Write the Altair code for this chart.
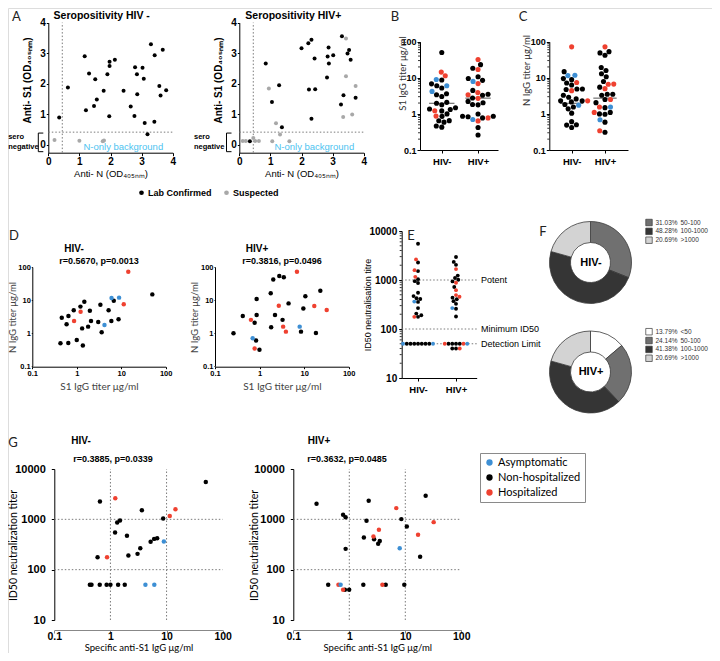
import numpy as np
import pandas as pd
import altair as alt

W, H, OFF = 704, 645, 8


def P(v):
    return v - OFF


ARIAL = "Liberation Sans"
MYRIAD = "Lato"
RED, BLUE, BLACK, GRAY, CYAN = "#ef4130", "#3d8fd4", "#000000", "#a8a8a8", "#4ec3f0"

# ---------------- data ----------------
groups = ["HIV-", "HIV+"]
status_names = ["Asymptomatic", "Non-hospitalized", "Hospitalized"]
status_colors = [BLUE, BLACK, RED]
status_code = {"A": "Asymptomatic", "N": "Non-hospitalized", "H": "Hospitalized"}
a_status = ["Lab Confirmed", "Suspected"]
a_colors = [BLACK, GRAY]

# Panel A : anti-N OD (x) vs anti-S1 OD (y)
a_neg_lab_n = [0.35, 0.63, 1.17, 1.21, 1.31, 1.47, 1.51, 1.56, 1.78, 1.90, 1.96, 1.97, 1.97, 2.14, 2.42, 2.65,
               2.77, 2.79, 2.85, 2.86, 3.03, 3.07, 3.10, 3.19, 3.30, 3.41, 3.42, 3.57, 3.61, 3.68, 3.79]
a_neg_lab_s1 = [0.89, 1.87, 2.90, 1.13, 2.33, 1.27, 2.14, 1.48, 1.77, 2.31, 0.93, 2.72, 2.58, 2.78, 1.77, 1.25,
                0.94, 2.54, 2.31, 1.65, 2.52, 2.16, 0.71, 0.34, 3.29, 0.75, 2.93, 1.92, 1.61, 3.11, 1.78]
a_neg_sus_n = [0.20, 1.00, 1.75, 1.79]
a_neg_sus_s1 = [0.15, 0.13, 0.11, 0.14]
a_pos_lab_n = [0.34, 0.85, 1.05, 1.28, 1.37, 2.00, 2.22, 2.24, 2.32, 2.32, 2.42, 2.44, 2.82, 2.84, 2.87, 2.88,
               3.02, 3.27, 3.30, 3.35, 3.48, 3.53, 3.58, 3.74]
a_pos_lab_s1 = [0.11, 2.66, 1.40, 1.95, 0.57, 3.16, 3.32, 1.81, 3.44, 0.85, 2.82, 1.82, 2.20, 2.89, 3.18, 2.66,
                2.93, 1.32, 3.55, 1.62, 2.99, 3.10, 2.78, 1.54]
a_pos_sus_n = [0.11, 0.21, 0.45, 0.51, 0.63, 0.95, 1.06, 1.18, 1.31, 1.61, 3.34, 3.43, 3.43, 3.63, 3.74]
a_pos_sus_s1 = [0.12, 0.12, 0.22, 0.12, 0.12, 1.84, 0.11, 0.70, 0.33, 0.11, 0.91, 3.48, 2.24, 0.99, 1.92]
a_cut_n = 0.45
a_cut_s1 = 0.41

# Subjects (S1 IgG, N IgG, ID50) used in B, C, D, E, G
neg_s1 = [0.43, 0.46, 0.59, 0.645, 0.65, 0.855, 1.0, 1.21, 1.32, 1.37, 1.48, 1.8, 1.97, 2.09, 6.0, 3.04, 3.4,
          3.63, 5.2, 6.8, 8.7, 50, 0.87, 1.22, 11.4, 14.4, 4.2, 6.05, 8.95]
neg_n = [0.49, 2.9, 1.83, 0.5, 3.3, 4.9, 0.61, 6.3, 1.38, 0.42, 8.9, 1.56, 4.75, 2.3, 2.3, 2.15, 7.2, 1.05, 4.9,
         9.5, 2.6, 14.8, 2.3, 4.4, 7.4, 72, 1.75, 11.5, 11.8]
neg_id50 = [50, 50, 177, 50, 2270, 50, 50, 548, 868, 50, 948, 50, 470, 191, 409, 206, 267, 1520, 357, 423, 1040,
            5500, 177, 2630, 1160, 1590, 50, 50, 363]
neg_status = "NNNNNNNNNNNNNNNNNNNNNN" + "HHHH" + "AAA"

pos_s1 = [0.26, 0.42, 0.775, 0.835, 0.86, 0.86, 0.995, 1.78, 1.82, 2.03, 2.22, 2.77, 3.28, 3.5, 4.47, 8.5, 9.6,
          10.65, 18.4, 23.1, 0.64, 0.775, 2.7, 3.38, 3.9, 6.9, 16.9, 32.1, 0.70, 7.95]
pos_n = [0.98, 3.3, 2.05, 0.59, 3.5, 10.7, 0.31, 15.9, 1.49, 42, 3.5, 53, 2.5, 49, 7.9, 1.1, 5.5, 12.9, 1.0,
         19.2, 2.5, 0.34, 6.7, 1.56, 1.1, 72, 6.6, 5.0, 0.69, 1.56]
pos_id50 = [2040, 50, 1230, 40, 259, 1100, 40, 50, 436, 935, 2340, 404, 326, 370, 50, 1010, 50, 721, 180, 2940,
            50, 40, 456, 620, 50, 1670, 492, 880, 50, 267]
pos_status = "NNNNNNNNNNNNNNNNNNNN" + "HHHHHHHH" + "AA"

d_stats = {"HIV-": "r=0.5670, p=0.0013", "HIV+": "r=0.3816, p=0.0496"}
g_stats = {"HIV-": "r=0.3885, p=0.0339", "HIV+": "r=0.3632, p=0.0485"}

e_ref_values = [1000, 100, 50]
e_ref_labels = ["Potent", "Minimum ID50", "Detection Limit"]
g_grid_x = [1, 10]
g_grid_y = [100, 1000]

f_bins = ["<50", "50-100", "100-1000", ">1000"]
f_neg_pct = [0.0, 31.03, 48.28, 20.69]
f_pos_pct = [13.79, 24.14, 41.38, 20.69]
f_bin_colors = ["#ffffff", "#707070", "#353535", "#d3d3d3"]

# ---------------- tables ----------------
ONE = pd.DataFrame({"k": [0]})


def subjects(grp, s1, n, id50, st):
    d = pd.DataFrame({"grp": grp, "gi": groups.index(grp), "S1": s1, "N": n, "ID50": id50,
                      "status": [status_code[c] for c in st]})
    d["rank"] = (d["status"] != "Non-hospitalized").astype(int)
    return d


subj = pd.concat([subjects("HIV-", neg_s1, neg_n, neg_id50, neg_status),
                  subjects("HIV+", pos_s1, pos_n, pos_id50, pos_status)], ignore_index=True)


def swarm(vals, ppd, step):
    yy = np.log10(np.asarray(vals, float)) * ppd
    cands = sorted(np.arange(-30, 30.01, 0.25), key=lambda c: (abs(c), c))
    px, py = [], []
    out = np.zeros(len(yy))
    for i in np.argsort(yy, kind="stable"):
        for c in cands:
            if all((c - a) ** 2 + (yy[i] - b) ** 2 >= step * step - 1e-6 for a, b in zip(px, py)):
                break
        out[i] = c
        px.append(c)
        py.append(yy[i])
    return out


for col, key, ppd, step, ppu in [("bx", "S1", 36.1, 5.4, 36.3), ("cx", "N", 36.1, 5.4, 33.3),
                                 ("ex", "ID50", 49.0, 3.6, 38.0)]:
    subj[col] = 0.0
    for g in groups:
        m = subj["grp"] == g
        subj.loc[m, col] = subj.loc[m, "gi"] + swarm(subj.loc[m, key].values, ppd, step) / ppu

subj = subj.sort_values("rank", kind="stable").reset_index(drop=True)


def a_table(lab_n, lab_s1, sus_n, sus_s1):
    return pd.concat([pd.DataFrame({"N": sus_n, "S1": sus_s1, "st": a_status[1]}),
                      pd.DataFrame({"N": lab_n, "S1": lab_s1, "st": a_status[0]})], ignore_index=True)


a_neg = a_table(a_neg_lab_n, a_neg_lab_s1, a_neg_sus_n, a_neg_sus_s1)
a_pos = a_table(a_pos_lab_n, a_pos_lab_s1, a_pos_sus_n, a_pos_sus_s1)


def minor_ticks(lo_exp, hi_exp):
    return [m * 10.0 ** k for k in range(lo_exp, hi_exp) for m in range(2, 10)]


# ---------------- scales & axes ----------------
def lin(dom, r0, r1):
    return alt.Scale(type="linear", domain=dom, range=[P(r0), P(r1)], nice=False, zero=False)


def lg(dom, r0, r1):
    return alt.Scale(type="log", domain=dom, range=[P(r0), P(r1)], nice=False)


def ax(orient, pos, **kw):
    base = dict(grid=False, domainColor="black", tickColor="black", labelColor="black", labelFont=ARIAL,
                labelFontWeight="bold", titleFont=ARIAL, titleColor="black", titleFontWeight="normal",
                domainWidth=1, tickWidth=1, labelFlush=False, labelOverlap=False)
    base.update(kw)
    off = P(pos) - H if orient == "bottom" else -P(pos)
    return alt.Axis(orient=orient, offset=off, **base)


def left_title_x(center_x, axis_x, fs):
    # rotated left-axis title: text spans [titleX - fs, titleX] relative to the axis line
    return center_x + fs / 2 - axis_x


SA_LX, SA_LY = lin([0, 4], 48.3, 172.7), lin([-0.26, 4], 152.6, 22.6)
SA_RX, SA_RY = lin([0, 4], 239.3, 363.7), lin([-0.26, 4], 152.6, 22.6)
SB_X, SB_Y = lin([-0.6, 1.55], 420, 498), lg([0.1, 100], 150, 41.7)
SC_X, SC_Y = lin([-0.67, 1.69], 549.3, 628), lg([0.1, 100], 150, 41.7)
SD_LX, SD_RX = lg([0.1, 100], 32.3, 165.7), lg([0.1, 100], 215, 348.7)
SD_Y = lg([0.1, 100], 366, 267)
SE_X, SE_Y = lin([-0.43, 1.545], 401.7, 476.7), lg([10, 10000], 378, 231)
SG_LX, SG_RX = lg([0.1, 100], 54.3, 222.7), lg([0.1, 100], 293.3, 461.3)
SG_Y = lg([10, 10000], 620, 469)

COLOR = alt.Color("status:N", scale=alt.Scale(domain=status_names, range=status_colors),
                  legend=alt.Legend(orient="none", legendX=P(480), legendY=P(453), title=None,
                                    strokeColor="#8a8a8a", fillColor="white", padding=4, labelFont=MYRIAD,
                                    labelFontSize=11, labelColor="black", symbolType="circle", symbolSize=40,
                                    rowPadding=3, labelOffset=3, symbolStrokeWidth=0))
FILL = alt.Fill("st:N", scale=alt.Scale(domain=a_status, range=a_colors),
                legend=alt.Legend(orient="none", direction="horizontal", legendX=P(137), legendY=P(188),
                                  title=None, labelFont=ARIAL, labelFontWeight="bold", labelFontSize=9,
                                  labelColor="black", symbolSize=22, symbolType="circle", labelOffset=2,
                                  columnPadding=10, symbolStrokeWidth=0))


def txt(s, x, y, size=10, weight="normal", font=ARIAL, color="black", align="center", angle=0):
    return alt.Chart(ONE).mark_text(text=s, fontSize=size, fontWeight=weight, font=font, color=color,
                                    align=align, baseline="middle", angle=angle).encode(
        x=alt.value(P(x)), y=alt.value(P(y)))


DOT = dict(strokeDash=[1.5, 2], color="#7a7a7a", strokeWidth=1)
layers = []

# ---------------- Panel A ----------------
for df, sx, sy, ttl, cx, axx, br, tx in [(a_neg, SA_LX, SA_LY, "Seropositivity HIV -", 101.7, 48.3, 38.3, 8.2),
                                        (a_pos, SA_RX, SA_RY, "Seropositivity HIV+", 293.3, 239.3, 226.5, 194)]:
    layers.append(alt.Chart(ONE).mark_rule(**DOT).encode(
        x=alt.X(datum=a_cut_n, type="quantitative", scale=sx, axis=None),
        y=alt.Y(datum=-0.26, type="quantitative", scale=sy, axis=None), y2=alt.Y2(datum=4)))
    layers.append(alt.Chart(ONE).mark_rule(**DOT).encode(
        y=alt.Y(datum=a_cut_s1, type="quantitative", scale=sy, axis=None),
        x=alt.X(datum=0, type="quantitative", scale=sx, axis=None), x2=alt.X2(datum=4)))
    layers.append(alt.Chart(df).mark_circle(size=16, opacity=1).encode(
        x=alt.X("N:Q", scale=sx, axis=ax("bottom", 152.7, values=[0, 1, 2, 3, 4], format="d", tickSize=3,
                                           labelPadding=1, labelFontSize=10, title="Anti- N (OD₄₀₅ₙₘ)",
                                           titleFontSize=9.5, titlePadding=2)),
        y=alt.Y("S1:Q", scale=sy, axis=ax("left", axx, values=[0, 1, 2, 3, 4], format="d", tickSize=2,
                                            labelPadding=1, labelFontSize=10, title="Anti- S1 (OD₄₀₅ₙₘ)",
                                            titleFontSize=10, titleFontWeight="bold",
                                            titleX=left_title_x(axx - 20.5, axx, 10), titleY=P(80))),
        fill=FILL))
    # bracket marking the sero-negative zone
    layers.append(alt.Chart(ONE).mark_rule(color="black", strokeWidth=1).encode(
        x=alt.value(P(br)), y=alt.Y(datum=0.38, type="quantitative", scale=sy, axis=None),
        y2=alt.Y2(datum=-0.23)))
    for yv in [0.38, -0.23]:
        layers.append(alt.Chart(ONE).mark_rule(color="black", strokeWidth=1).encode(
            x=alt.value(P(br)), x2=alt.value(P(br + 5)),
            y=alt.Y(datum=yv, type="quantitative", scale=sy, axis=None)))
    layers.append(txt(ttl, cx, 15.5, size=10.5, weight="bold"))
    layers.append(txt("sero", tx, 137.3, size=7.5, weight="bold", align="left"))
    layers.append(txt("negative", tx, 146.7, size=7.5, weight="bold", align="left"))
    layers.append(txt("N-only background", axx + 75, 146.5, size=9.5, color=CYAN))

# ---------------- Panels B & C ----------------
grp_label_expr = f"datum.value == 0 ? '{groups[0]}' : '{groups[1]}'"
for key, col, sx, sy, axx, title, tcx, tcy in [("S1", "bx", SB_X, SB_Y, 420, "S1 IgG titer μg/ml", 403, 73),
                                               ("N", "cx", SC_X, SC_Y, 549.3, "N  IgG titer  μg/ml", 527, 70)]:
    layers.append(alt.Chart(pd.DataFrame({"v": minor_ticks(-1, 2)})).mark_rule(color="black", strokeWidth=0.8).encode(
        x=alt.value(P(axx - 2)), x2=alt.value(P(axx)), y=alt.Y("v:Q", scale=sy, axis=None)))
    layers.append(alt.Chart(subj).transform_aggregate(med=f"median({key})", groupby=["gi"]).transform_calculate(
        x1="datum.gi - 0.35", x2="datum.gi + 0.35").mark_rule(color="#555555", strokeWidth=1).encode(
        x=alt.X("x1:Q", scale=sx, axis=None), x2="x2:Q", y=alt.Y("med:Q", scale=sy, axis=None)))
    layers.append(alt.Chart(subj).mark_circle(size=26, opacity=1).encode(
        x=alt.X(f"{col}:Q", scale=sx, axis=ax("bottom", 150, values=[0, 1], labelExpr=grp_label_expr, tickSize=3,
                                               labelPadding=3, labelFontSize=9.5, title=None)),
        y=alt.Y(f"{key}:Q", scale=sy, axis=ax("left", axx, values=[0.1, 1, 10, 100], format="~g", tickSize=3,
                                               labelPadding=1, labelFontSize=9, title=title, titleFont=MYRIAD,
                                               titleFontSize=9.5, titleColor="#333333",
                                               titleX=left_title_x(tcx, axx, 9.5), titleY=P(tcy))),
        color=COLOR))

# ---------------- Panel D ----------------
for g, sx, axx, cx, tcx in [("HIV-", SD_LX, 32.3, 99, 13), ("HIV+", SD_RX, 215, 282, 195)]:
    layers.append(alt.Chart(subj[subj["grp"] == g]).mark_circle(size=20, opacity=1).encode(
        x=alt.X("S1:Q", scale=sx, axis=ax("bottom", 366.7, values=[0.1, 1, 10, 100], format="~g", tickSize=2,
                                           labelPadding=1, labelFontSize=7.5, title="S1 IgG titer μg/ml",
                                           titleFont=MYRIAD, titleFontSize=10, titleColor="#444444",
                                           titlePadding=4)),
        y=alt.Y("N:Q", scale=SD_Y, axis=ax("left", axx, values=[0.1, 1, 10, 100], format="~g", tickSize=1,
                                            labelPadding=1, labelFontSize=7.5, title="N  IgG titer  μg/ml",
                                            titleFont=MYRIAD, titleFontSize=9.5, titleColor="#444444",
                                            titleX=left_title_x(tcx, axx, 9.5), titleY=P(317))),
        color=COLOR))
    layers.append(txt(g, cx - 25, 249, size=10, weight="bold"))
    layers.append(txt(d_stats[g], cx, 261, size=9, weight="bold"))

# ---------------- Panel E ----------------
e_ref = pd.DataFrame({"v": e_ref_values, "lab": e_ref_labels})
layers.append(alt.Chart(pd.DataFrame({"v": minor_ticks(1, 4)})).mark_rule(color="black", strokeWidth=0.8).encode(
    x=alt.value(P(401.7 - 2)), x2=alt.value(P(401.7)), y=alt.Y("v:Q", scale=SE_Y, axis=None)))
layers.append(alt.Chart(e_ref).mark_rule(**DOT).encode(
    y=alt.Y("v:Q", scale=SE_Y, axis=None), x=alt.X(datum=-0.43, type="quantitative", scale=SE_X, axis=None),
    x2=alt.X2(datum=1.545)))
layers.append(alt.Chart(e_ref).mark_text(align="left", baseline="middle", font=ARIAL, fontSize=9).encode(
    y=alt.Y("v:Q", scale=SE_Y, axis=None), x=alt.value(P(481)), text="lab:N"))
layers.append(alt.Chart(subj).mark_circle(size=15, opacity=1).encode(
    x=alt.X("ex:Q", scale=SE_X, axis=ax("bottom", 378, values=[0, 1], labelExpr=grp_label_expr, tickSize=3,
                                         labelPadding=3, labelFontSize=9.5, title=None)),
    y=alt.Y("ID50:Q", scale=SE_Y, axis=ax("left", 401.7, values=[10, 100, 1000, 10000], format="~g",
                                           tickSize=3, labelPadding=2, labelFontSize=10,
                                           title="ID50 neutralisation titre", titleFontSize=9,
                                           titleX=left_title_x(368, 401.7, 9), titleY=P(304.5))),
    color=COLOR))

# ---------------- Panel F ----------------
for pcts, cy, name, ly in [(f_neg_pct, 262.5, "HIV-", 222.5), (f_pos_pct, 372, "HIV+", 331.7)]:
    fd = pd.DataFrame({"bin": f_bins, "pct": pcts, "bi": range(len(f_bins)), "col": f_bin_colors})
    fd = fd[fd["pct"] > 0].reset_index(drop=True)
    fd["row"] = range(len(fd))
    fd["plab"] = [f"{p:.2f}%" for p in fd["pct"]]
    layers.append(alt.Chart(fd).mark_arc(outerRadius=41, innerRadius=20, stroke="#3a3a3a", strokeWidth=0.8).encode(
        theta=alt.Theta("pct:Q", stack=True), order=alt.Order("bi:Q"),
        color=alt.Color("col:N", scale=None), x=alt.value(P(590.5)), y=alt.value(P(cy))))
    layers.append(txt(name, 591, cy, size=11, weight="bold"))
    ysc = lin([0, 3], ly, ly + 3 * 8.85)
    layers.append(alt.Chart(fd).mark_square(size=42, stroke="#3a3a3a", strokeWidth=0.7, opacity=1).encode(
        x=alt.value(P(649)), y=alt.Y("row:Q", scale=ysc, axis=None), color=alt.Color("col:N", scale=None)))
    layers.append(alt.Chart(fd).mark_text(align="left", baseline="middle", font=ARIAL, fontSize=6.5,
                                          color="#333333").encode(
        x=alt.value(P(655.5)), y=alt.Y("row:Q", scale=ysc, axis=None), text="plab:N"))
    layers.append(alt.Chart(fd).mark_text(align="left", baseline="middle", font=ARIAL, fontSize=6.5,
                                          color="#333333").encode(
        x=alt.value(P(680.5)), y=alt.Y("row:Q", scale=ysc, axis=None), text="bin:N"))

# ---------------- Panel G ----------------
for g, sx, axx, tx, rx, tcx in [("HIV-", SG_LX, 54.3, 81, 113, 13), ("HIV+", SG_RX, 293.3, 319, 347, 254)]:
    layers.append(alt.Chart(pd.DataFrame({"v": g_grid_x})).mark_rule(**DOT).encode(
        x=alt.X("v:Q", scale=sx, axis=None), y=alt.Y(datum=10, type="quantitative", scale=SG_Y, axis=None),
        y2=alt.Y2(datum=10000)))
    layers.append(alt.Chart(pd.DataFrame({"v": g_grid_y})).mark_rule(**DOT).encode(
        y=alt.Y("v:Q", scale=SG_Y, axis=None), x=alt.X(datum=0.1, type="quantitative", scale=sx, axis=None),
        x2=alt.X2(datum=100)))
    layers.append(alt.Chart(subj[subj["grp"] == g]).mark_circle(size=20, opacity=1).encode(
        x=alt.X("S1:Q", scale=sx, axis=ax("bottom", 630, values=[0.1, 1, 10, 100], format="~g", tickSize=3,
                                           labelPadding=-1.5, labelFontSize=10.5, domainColor="#888888",
                                           tickColor="#888888", title="Specific anti-S1 IgG μg/ml",
                                           titleFont=MYRIAD, titleFontSize=9.5, titleY=12.5)),
        y=alt.Y("ID50:Q", scale=SG_Y, axis=ax("left", axx, values=[10, 100, 1000, 10000], format="~g",
                                               tickSize=3, labelPadding=6, labelFontSize=11,
                                               title="ID50 neutralization titer", titleFont=MYRIAD,
                                               titleFontSize=10.5, titleX=left_title_x(tcx, axx, 10.5),
                                               titleY=P(545))),
        color=COLOR))
    layers.append(txt(g, tx, 441, size=10, weight="bold"))
    layers.append(txt(g_stats[g], rx, 458.5, size=9, weight="bold"))

# ---------------- panel letters ----------------
for letter, x, y in [("A", 16.5, 17), ("B", 395, 17), ("C", 523, 17), ("D", 14, 236), ("E", 411, 236),
                     ("F", 543, 232), ("G", 13, 443)]:
    layers.append(txt(letter, x, y, size=13, font=MYRIAD, color="#222222"))

chart = alt.layer(*layers).resolve_scale(
    x="independent", y="independent", theta="independent"
).properties(
    width=W, height=H, autosize=alt.AutoSizeParams(type="none"), padding=0
).configure_view(stroke=None).configure(font=ARIAL)

chart.save("out.html", embed_options={"renderer": "svg", "actions": False})
